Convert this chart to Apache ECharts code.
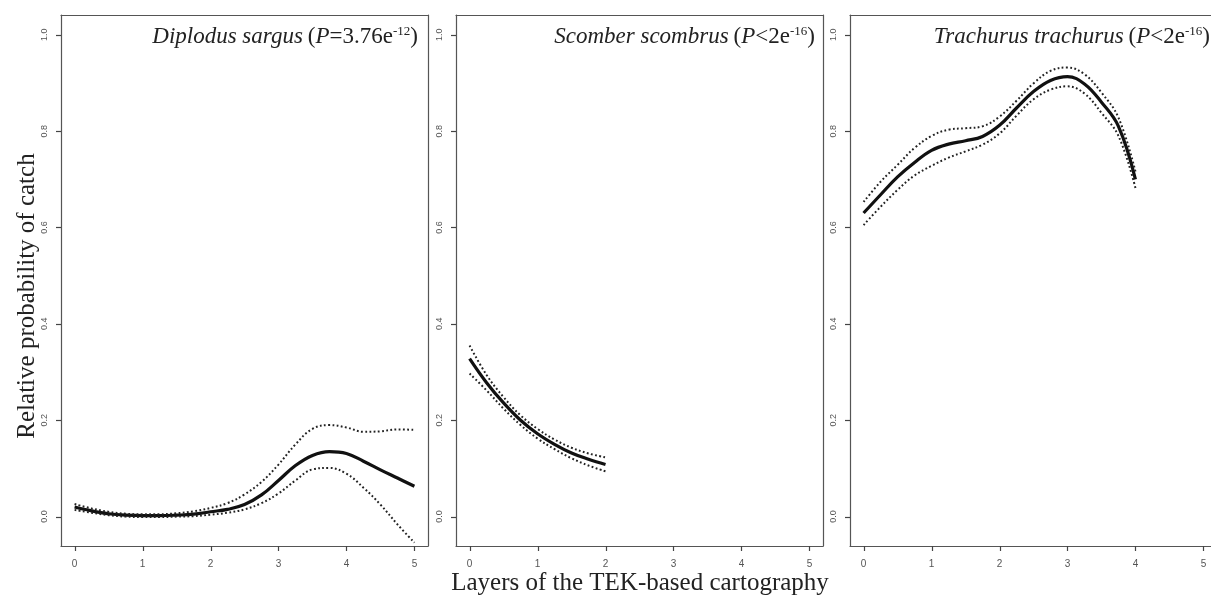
<!DOCTYPE html>
<html>
<head>
<meta charset="utf-8">
<script src="https://cdn.jsdelivr.net/npm/echarts@6/dist/echarts.min.js"></script>
<style>html,body{margin:0;padding:0;background:#fff;}#c{width:1211px;height:595px;}</style>
</head>
<body>
<div id="c"></div>
<script>
// ---- data ----
const xTicks = [0, 1, 2, 3, 4, 5];
const yTicks = [0, 0.2, 0.4, 0.6, 0.8, 1.0];

const sargusX = [0,0.25,0.5,0.75,1,1.25,1.5,1.75,2,2.25,2.5,2.75,3,3.25,3.5,3.75,4,4.25,4.5,4.75,5];
const sargusFit = [0.020,0.012,0.006,0.003,0.002,0.002,0.003,0.005,0.010,0.015,0.025,0.045,0.075,0.106,0.127,0.135,0.131,0.115,0.097,0.080,0.063];
const sargusUp  = [0.026,0.017,0.010,0.006,0.005,0.005,0.007,0.011,0.018,0.028,0.046,0.072,0.108,0.150,0.182,0.190,0.185,0.176,0.177,0.181,0.180];
const sargusLo  = [0.014,0.008,0.003,0.000,-0.001,-0.001,0.000,0.001,0.004,0.008,0.015,0.028,0.048,0.075,0.098,0.101,0.089,0.060,0.025,-0.016,-0.054];

const scomberX = [0,0.25,0.5,0.75,1,1.25,1.5,1.75,2];
const scomberFit = [0.328,0.278,0.236,0.200,0.172,0.150,0.132,0.119,0.108];
const scomberUp  = [0.355,0.294,0.248,0.210,0.182,0.160,0.143,0.131,0.123];
const scomberLo  = [0.297,0.262,0.224,0.190,0.162,0.140,0.121,0.106,0.094];

const trachX = [0,0.25,0.5,0.75,1,1.25,1.5,1.75,2,2.25,2.5,2.75,3,3.25,3.5,3.75,4];
const trachFit = [0.630,0.668,0.705,0.735,0.760,0.773,0.780,0.789,0.812,0.848,0.882,0.905,0.913,0.898,0.860,0.810,0.700];
const trachUp  = [0.653,0.695,0.730,0.765,0.790,0.803,0.806,0.810,0.830,0.863,0.899,0.925,0.932,0.918,0.880,0.828,0.716];
const trachLo  = [0.605,0.643,0.678,0.708,0.728,0.745,0.758,0.772,0.795,0.832,0.866,0.886,0.893,0.878,0.838,0.790,0.682];

const titles = [
  '{i|Diplodus sargus} {n|(}{i|P}{n|=3.76e}{s|-12}{n|)}',
  '{i|Scomber scombrus} {n|(}{i|P}{n|<2e}{s|-16}{n|)}',
  '{i|Trachurus trachurus} {n|(}{i|P}{n|<2e}{s|-16}{n|)}'
];
const xTitle = 'Layers of the TEK-based cartography';
const yTitle = 'Relative probability of catch';

// ---- layout ----
const xMin = -0.2, xMax = 5.2, yMin = -0.061, yMax = 1.041;
const gridLefts = [61, 456, 850];
const gridW = 367, gridTop = 15, gridH = 531;
const titleRights = [793, 396, 1];
const tickLen = 5;

const panels = [
  [sargusX, sargusFit, sargusUp, sargusLo],
  [scomberX, scomberFit, scomberUp, scomberLo],
  [trachX, trachFit, trachUp, trachLo]
];

const pair = (xs, ys) => xs.map((x, i) => [x, ys[i]]);
const serif = 'Liberation Serif';
const richStyles = {
  i: {fontFamily: serif, fontStyle: 'italic', fontWeight: 'normal', fontSize: 23, color: '#222'},
  n: {fontFamily: serif, fontWeight: 'normal', fontSize: 23, color: '#222'},
  s: {fontFamily: serif, fontWeight: 'normal', fontSize: 13, color: '#222', verticalAlign: 'top', padding: [0, 0, 10, 0]}
};
const boxLine = {show: true, onZero: false, lineStyle: {color: '#555', width: 1.2}};
const tickStroke = {stroke: '#444', lineWidth: 1.2};

const grids = [], xAxes = [], yAxes = [], series = [], titleOpts = [];
panels.forEach((p, k) => {
  grids.push({left: gridLefts[k], top: gridTop, width: gridW, height: gridH, show: false,
    outerBoundsMode: 'none', containLabel: false});
  // bottom axis with labels
  xAxes.push({type: 'value', gridIndex: k, position: 'bottom', min: xMin, max: xMax,
    splitLine: {show: false}, axisLine: boxLine, axisTick: {show: false},
    axisLabel: {customValues: xTicks, fontSize: 10, color: '#555', margin: 13, fontFamily: 'Liberation Sans'}});
  // top frame line
  xAxes.push({type: 'value', gridIndex: k, position: 'top', min: xMin, max: xMax,
    splitLine: {show: false}, axisLine: boxLine, axisTick: {show: false}, axisLabel: {show: false}});
  // left axis with labels
  yAxes.push({type: 'value', gridIndex: k, position: 'left', min: yMin, max: yMax,
    splitLine: {show: false}, axisLine: boxLine, axisTick: {show: false},
    axisLabel: {customValues: yTicks, fontSize: 9, color: '#555', margin: 12, rotate: 90,
      fontFamily: 'Liberation Sans', formatter: v => v.toFixed(1)}});
  // right frame line (cropped away on the last panel)
  yAxes.push({type: 'value', gridIndex: k, position: 'right', min: yMin, max: yMax,
    splitLine: {show: false}, axisLine: Object.assign({}, boxLine, {show: k < 2}),
    axisTick: {show: false}, axisLabel: {show: false}});

  const xi = 2 * k, yi = 2 * k;
  // tick marks, placed through the axis scales
  series.push({type: 'custom', xAxisIndex: xi, yAxisIndex: yi, silent: true, clip: false, z: 5,
    data: xTicks.map(v => [v, yMin]),
    renderItem: (params, api) => {
      const c = api.coord([api.value(0), api.value(1)]);
      const x = Math.round(c[0]) + 0.5;
      return {type: 'line', shape: {x1: x, y1: c[1], x2: x, y2: c[1] + tickLen}, style: tickStroke};
    }});
  series.push({type: 'custom', xAxisIndex: xi, yAxisIndex: yi, silent: true, clip: false, z: 5,
    data: yTicks.map(v => [xMin, v]),
    renderItem: (params, api) => {
      const c = api.coord([api.value(0), api.value(1)]);
      const y = Math.round(c[1]) + 0.5;
      return {type: 'line', shape: {x1: c[0], y1: y, x2: c[0] - tickLen, y2: y}, style: tickStroke};
    }});

  const [xs, fit, up, lo] = p;
  series.push({type: 'line', xAxisIndex: xi, yAxisIndex: yi, data: pair(xs, fit), smooth: 0.4,
    symbol: 'none', lineStyle: {color: '#111', width: 3.2}, z: 3});
  series.push({type: 'line', xAxisIndex: xi, yAxisIndex: yi, data: pair(xs, up), smooth: 0.4,
    symbol: 'none', lineStyle: {color: '#222', width: 2, type: [1.8, 2.4]}});
  series.push({type: 'line', xAxisIndex: xi, yAxisIndex: yi, data: pair(xs, lo), smooth: 0.4,
    symbol: 'none', lineStyle: {color: '#222', width: 2, type: [1.8, 2.4]}});
  titleOpts.push({text: titles[k], right: titleRights[k], top: 25, padding: 0,
    textStyle: {fontWeight: 'normal', rich: richStyles}});
});

const chart = echarts.init(document.getElementById('c'), null, {renderer: 'canvas'});
chart.setOption({
  animation: false,
  backgroundColor: '#fff',
  title: titleOpts,
  grid: grids,
  xAxis: xAxes,
  yAxis: yAxes,
  series: series,
  graphic: [
    {type: 'text', x: 640, y: 571,
      style: {text: xTitle, font: '25px "Liberation Serif"', fill: '#222', align: 'center', verticalAlign: 'top'}},
    {type: 'text', x: 27, y: 296, rotation: Math.PI / 2,
      style: {text: yTitle, font: '25px "Liberation Serif"', fill: '#222', align: 'center', verticalAlign: 'middle'}}
  ]
});
</script>
</body>
</html>
